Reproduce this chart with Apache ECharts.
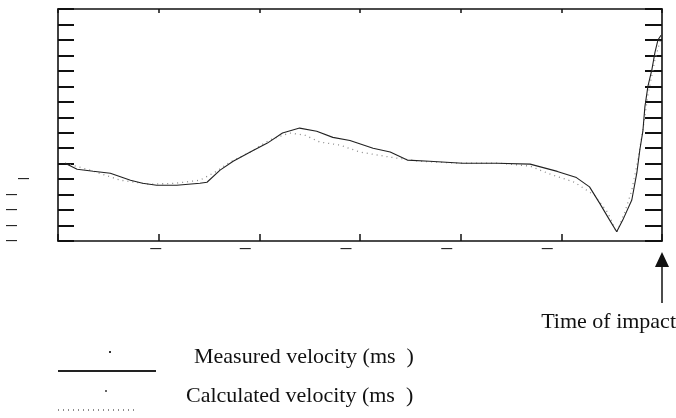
<!DOCTYPE html>
<html>
<head>
<meta charset="utf-8">
<script src="https://cdn.jsdelivr.net/npm/echarts@6/dist/echarts.min.js"></script>
<style>
    html, body { margin: 0; padding: 0; background: #fff; }
</style>
</head>
<body>
<div id="main" style="width: 676px;height:418px;"></div>
<script type="text/javascript">
    // measured velocity trace (time units, velocity units)
    var measuredX = [0.07, 0.19, 0.35, 0.52, 0.72, 0.84, 0.98, 1.18, 1.41, 1.48, 1.61, 1.74, 1.91, 2.08, 2.23, 2.40, 2.57, 2.73, 2.90, 3.13, 3.30, 3.47, 3.69, 4.02, 4.36, 4.69, 4.96, 5.15, 5.28, 5.38, 5.48, 5.55, 5.61, 5.70, 5.75, 5.78, 5.81, 5.83, 5.86, 5.90, 5.93, 5.96, 5.99];
    var measuredY = [0.03, -0.36, -0.49, -0.62, -1.07, -1.27, -1.40, -1.40, -1.27, -1.20, -0.42, 0.16, 0.75, 1.33, 1.98, 2.30, 2.10, 1.70, 1.50, 1.00, 0.75, 0.23, 0.16, 0.03, 0.03, -0.03, -0.50, -0.90, -1.50, -2.55, -3.65, -4.40, -3.65, -2.35, -0.60, 0.90, 2.10, 3.67, 5.00, 6.10, 7.20, 8.00, 8.30];
    // calculated velocity
    var calcX = [0.07, 0.32, 0.62, 0.91, 1.16, 1.41, 1.56, 1.71, 1.91, 2.10, 2.30, 2.45, 2.60, 2.80, 3.00, 3.30, 3.59, 3.99, 4.39, 4.69, 4.89, 5.13, 5.33, 5.46, 5.55, 5.63, 5.70, 5.76, 5.81, 5.86, 5.93, 5.99];
    var calcY = [0.03, -0.42, -1.07, -1.33, -1.27, -1.07, -0.55, 0.10, 0.75, 1.53, 1.98, 1.85, 1.40, 1.20, 0.75, 0.42, 0.16, 0.03, 0.03, -0.16, -0.68, -1.20, -2.05, -3.15, -4.45, -3.15, -1.72, 0.23, 2.18, 4.45, 6.72, 8.15];
    // tick labels (only the minus signs survived on the original)
    var xDashTicks = [1, 2, 3, 4, 5];
    var yDashTicks = [-1, -2, -3, -4, -5];
    var impactTime = 6;
    var measuredName = 'Measured velocity (ms  )';
    var calcName = 'Calculated velocity (ms  )';

    function pairs(xs, ys) {
        var out = [];
        for (var i = 0; i < xs.length; i++) out.push([xs[i], ys[i]]);
        return out;
    }

    var myChart = echarts.init(document.getElementById('main'));
    var serif = 'Liberation Serif';
    var boxLine = {show: true, onZero: false, lineStyle: {color: '#111', width: 1.6}};

    // legend text sits above its line sample
    function legendText(name) {
        return '{t|' + name + '}\n{s| }';
    }

    var option = {
        animation: false,
        grid: {left: 58, right: 14, top: 9, bottom: 177},
        xAxis: [{
            type: 'value', min: 0, max: 6, interval: 1, position: 'bottom',
            axisLine: boxLine,
            axisTick: {show: true, inside: true, length: 7, lineStyle: {color: '#111', width: 1.5}},
            splitLine: {show: false},
            axisLabel: {
                margin: 2,
                formatter: function (v) {
                    if (xDashTicks.indexOf(v) < 0) return '';
                    return v === 1 ? '{a|—}' : '{b|—}';
                },
                rich: {
                    a: {fontSize: 11, fontWeight: 'bold', color: '#222', padding: [0, 6, 0, 0]},
                    b: {fontSize: 11, fontWeight: 'bold', color: '#222', padding: [0, 28, 0, 0]}
                }
            }
        }, {
            type: 'value', min: 0, max: 6, interval: 1, position: 'top',
            axisLine: boxLine,
            axisTick: {show: true, inside: true, length: 4, lineStyle: {color: '#111', width: 1.5}},
            splitLine: {show: false},
            axisLabel: {show: false}
        }],
        yAxis: [{
            type: 'value', min: -5, max: 10, interval: 1, position: 'left',
            axisLine: boxLine,
            axisTick: {show: true, inside: true, length: 16, lineStyle: {color: '#111', width: 2}},
            splitLine: {show: false},
            axisLabel: {
                margin: 29,
                formatter: function (v) {
                    if (yDashTicks.indexOf(v) < 0) return '';
                    return v === -1 ? '{a|—}' : '{b|—}';
                },
                rich: {
                    a: {fontSize: 11, fontWeight: 'bold', color: '#222'},
                    b: {fontSize: 11, fontWeight: 'bold', color: '#222', padding: [0, 12, 0, 0]}
                }
            }
        }, {
            type: 'value', min: -5, max: 10, interval: 1, position: 'right',
            axisLine: boxLine,
            axisTick: {show: true, inside: true, length: 17, lineStyle: {color: '#111', width: 2}},
            splitLine: {show: false},
            axisLabel: {show: false}
        }],
        legend: [{
            orient: 'vertical', left: 52, top: 341,
            itemWidth: 98, itemHeight: 10,
            data: [measuredName],
            itemStyle: {opacity: 0},
            formatter: legendText,
            textStyle: {
                rich: {
                    t: {fontFamily: serif, fontSize: 22, lineHeight: 24, color: '#111', padding: [0, 0, 0, 33]},
                    s: {fontSize: 10, lineHeight: 28}
                }
            }
        }, {
            orient: 'vertical', left: 52, top: 380,
            itemWidth: 80, itemHeight: 10,
            data: [calcName],
            itemStyle: {opacity: 0},
            formatter: legendText,
            textStyle: {
                rich: {
                    t: {fontFamily: serif, fontSize: 22, lineHeight: 24, color: '#111', padding: [0, 0, 0, 43]},
                    s: {fontSize: 10, lineHeight: 28}
                }
            }
        }],
        series: [{
            name: calcName,
            type: 'line',
            symbol: 'none',
            data: pairs(calcX, calcY),
            lineStyle: {color: '#8c8c8c', width: 1.3, type: [1, 4]},
            itemStyle: {color: '#8c8c8c'}
        }, {
            name: measuredName,
            type: 'line',
            symbol: 'none',
            data: pairs(measuredX, measuredY),
            lineStyle: {color: '#222', width: 1.1},
            itemStyle: {color: '#222'}
        }]
    };

    myChart.setOption(option);

    // time of impact arrow under the right edge of the plot
    var px = myChart.convertToPixel({xAxisIndex: 0}, impactTime);
    myChart.setOption({
        graphic: [{
            type: 'polygon',
            shape: {points: [[px, 252], [px - 7, 267], [px + 7, 267]]},
            style: {fill: '#111'}
        }, {
            type: 'line',
            shape: {x1: px, y1: 265, x2: px, y2: 303},
            style: {stroke: '#111', lineWidth: 1.5}
        }, {
            type: 'text',
            right: 0, top: 311,
            style: {text: 'Time of impact', font: '22px "Liberation Serif"', fill: '#111'}
        }, {
            // stray superscript marks left over next to the legend samples
            type: 'rect', shape: {x: 109, y: 351, width: 2, height: 2}, style: {fill: '#333'}
        }, {
            type: 'rect', shape: {x: 105, y: 390, width: 2, height: 2}, style: {fill: '#666'}
        }]
    });
</script>
</body>
</html>
